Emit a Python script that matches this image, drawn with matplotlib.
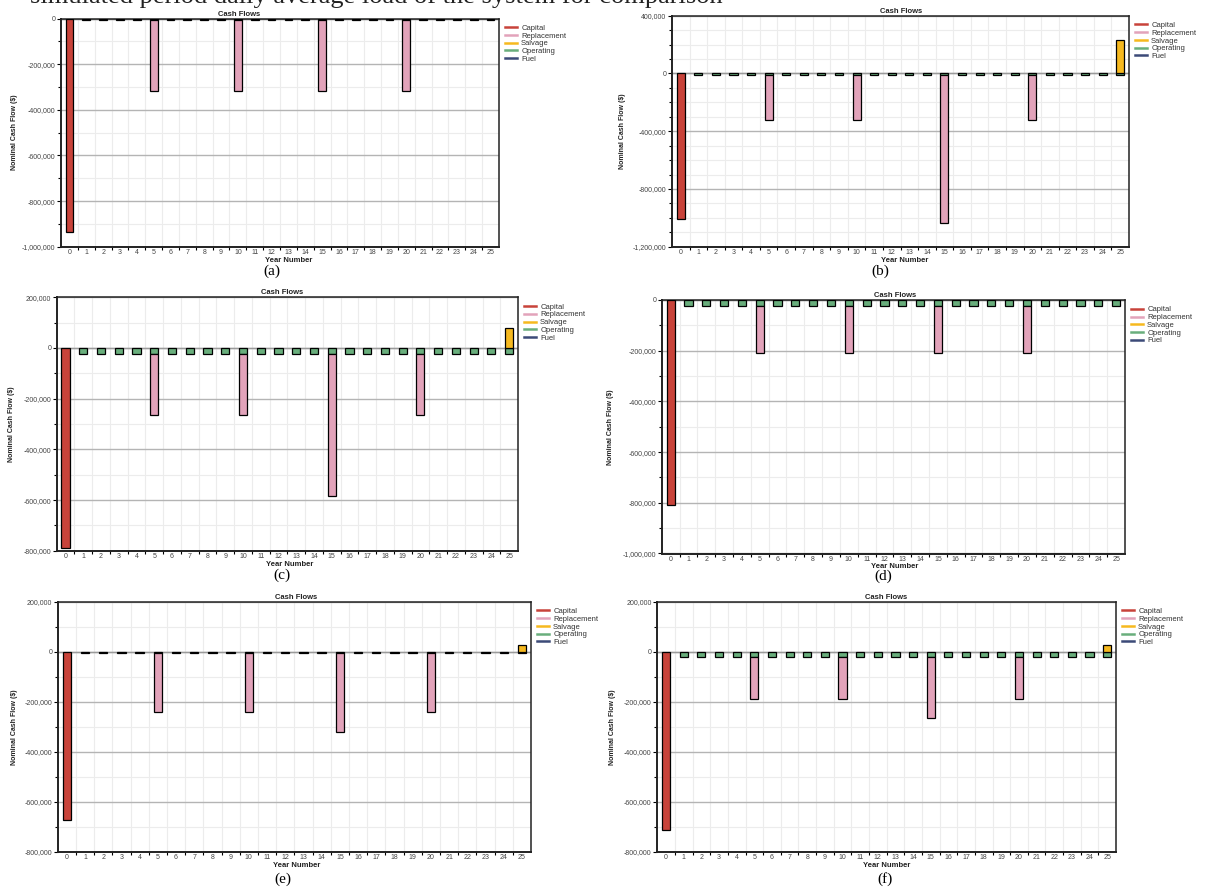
import numpy as np
import matplotlib.pyplot as plt
from matplotlib.ticker import FuncFormatter, MultipleLocator
from matplotlib.lines import Line2D

# -----------------------------
# Data
# -----------------------------
years = np.arange(26)
panel_labels = ['(a)', '(b)', '(c)', '(d)', '(e)', '(f)']
series_names = ['Capital', 'Replacement', 'Salvage', 'Operating', 'Fuel']

capital = [-935000, -1010000, -790000, -810000, -675000, -713000]
operating = [-6000, -10000, -25000, -22000, -5000, -22000]
# replacement at years 5, 10, 15, 20 (below operating)
replace_years = [5, 10, 15, 20]
replacement = [
    [-310000, -310000, -310000, -310000],
    [-312000, -312000, -1025000, -312000],
    [-240000, -240000, -560000, -240000],
    [-188000, -188000, -188000, -188000],
    [-236000, -236000, -316000, -236000],
    [-168000, -168000, -243000, -168000],
]
salvage = [0, 232000, 80000, 0, 28000, 27000]

ylims = [(-1000000, 0), (-1200000, 400000), (-800000, 200000),
         (-1000000, 0), (-800000, 200000), (-800000, 200000)]
ymajor = [200000, 400000, 200000, 200000, 200000, 200000]

colors = {'Capital': '#c8433a', 'Replacement': '#e2a3ba', 'Salvage': '#f6b91f',
          'Operating': '#69ae7c', 'Fuel': '#3c4a78'}

# -----------------------------
# Layout in pixels (left, top, right, bottom)
# -----------------------------
W, H = 1216, 893
boxes = [(61, 18.5, 499, 246.7), (672, 15.7, 1129, 246.7),
         (56.7, 297.3, 518, 550.8), (661.7, 300, 1125, 553.5),
         (57.7, 601.7, 531, 851.7), (657.3, 601.7, 1116, 851.7)]
title_x = [239, 901, 282, 895, 296, 886]
xlabel_x = [289, 905, 290, 895, 297, 887]
ylabel_x = [14, 623, 12, 611, 14, 613]
caption_pos = [(272, 271), (880, 271), (282, 575), (883, 576), (283, 879), (885, 879)]

sans = 'Liberation Sans'
serif = 'Liberation Serif'


def fx(x):
    return x / W


def fy(y):
    return 1 - y / H


fig = plt.figure(figsize=(W / 100, H / 100), dpi=100, facecolor='white')

# clipped caption line from the page above
fig.text(fx(30), fy(3), 'simulated period daily average load of the system for comparison',
         fontsize=19, family=serif, color='#222222', va='baseline', ha='left')

for i in range(6):
    l, t, r, b = boxes[i]
    ax = fig.add_axes([fx(l), fy(b), (r - l) / W, (b - t) / H])
    w = 0.46

    # operating (years 1..25)
    op = np.array([0.0] + [operating[i]] * 25)
    ax.bar(years[1:], op[1:], width=w, color=colors['Operating'],
           edgecolor='black', linewidth=0.9, zorder=3)
    # replacement stacked below operating
    ax.bar(replace_years, replacement[i], width=w, bottom=operating[i],
           color=colors['Replacement'], edgecolor='black', linewidth=0.9, zorder=3)
    # capital at year 0
    ax.bar([0], [capital[i]], width=w, color=colors['Capital'],
           edgecolor='black', linewidth=0.9, zorder=3)
    # salvage at year 25
    if salvage[i] > 0:
        ax.bar([25], [salvage[i]], width=w, color=colors['Salvage'],
               edgecolor='black', linewidth=0.9, zorder=3)

    ax.set_xlim(-0.5, 25.5)
    ax.set_ylim(*ylims[i])

    # grid
    ax.yaxis.set_major_locator(MultipleLocator(ymajor[i]))
    ax.yaxis.set_minor_locator(MultipleLocator(100000))
    ax.set_xticks(years)
    ax.set_xticks(np.arange(0.5, 25.5, 1), minor=True)
    ax.grid(which='major', axis='y', color='#b4b4b4', linewidth=1.0, zorder=1)
    ax.grid(which='minor', axis='y', color='#ececec', linewidth=0.8, zorder=0)
    ax.grid(which='minor', axis='x', color='#ececec', linewidth=0.8, zorder=0)
    ax.axhline(0, color='#9a9a9a', linewidth=1.0, zorder=2)

    ax.yaxis.set_major_formatter(FuncFormatter(lambda v, p: f'{int(round(v)):,}'))
    ax.tick_params(axis='y', which='major', labelsize=5, labelcolor='#444444',
                   length=3, width=0.8, pad=1)
    ax.tick_params(axis='y', which='minor', length=2, width=0.8)
    ax.tick_params(axis='x', which='major', labelsize=5, labelcolor='#444444',
                   length=0, pad=1.5)
    ax.tick_params(axis='x', which='minor', length=2, width=0.8)
    for lab in ax.get_xticklabels() + ax.get_yticklabels():
        lab.set_family(sans)
    for s in ax.spines.values():
        s.set_color('#222222')
        s.set_linewidth(1.1)
    ax.spines['left'].set_linewidth(1.4)
    ax.spines['bottom'].set_linewidth(1.4)

    # legend
    handles = [Line2D([], [], color=colors[n], linewidth=1.8) for n in series_names]
    leg = ax.legend(handles, series_names, loc='upper left', bbox_to_anchor=(1.0, 1.0),
                    frameon=False, handlelength=1.5, handletextpad=0.6,
                    labelspacing=0.05, borderaxespad=0.4,
                    prop={'family': sans, 'size': 5.5})
    for txt in leg.get_texts():
        txt.set_color('#333333')

    fig.text(fx(title_x[i]), fy(t - 4.5), 'Cash Flows', fontsize=5.5, fontweight='bold',
             family=sans, color='#222222', ha='center', va='center')
    fig.text(fx(xlabel_x[i]), fy(b + 13.5), 'Year Number', fontsize=5.5, fontweight='bold',
             family=sans, color='#222222', ha='center', va='center')
    fig.text(fx(ylabel_x[i]), (fy(t) + fy(b)) / 2, 'Nominal Cash Flow ($)',
             fontsize=5, fontweight='bold', family=sans, color='#222222',
             ha='center', va='center', rotation=90)
    cx, cy = caption_pos[i]
    fig.text(fx(cx), fy(cy), panel_labels[i], fontsize=11, family=serif,
             color='black', ha='center', va='center')

fig.savefig('out.png', dpi=100)
